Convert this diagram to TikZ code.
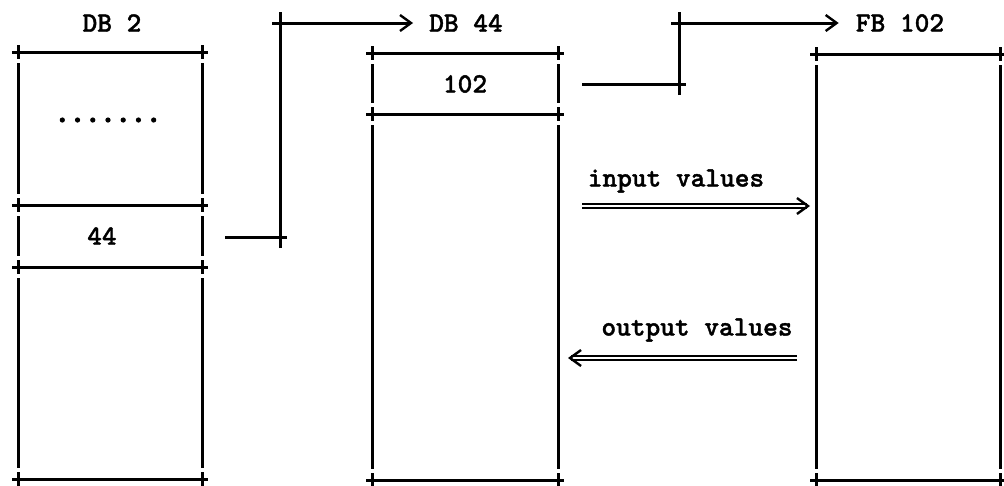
\documentclass[tikz,border=0pt]{standalone}
\usepackage{fontspec}
\newfontfamily\twfont{lmmonolt10-bold.otf}[BoldFont=lmmonolt10-bold.otf, BoldFeatures={FakeBold=1.3}]
\newfontfamily\dotfont{lmmonolt10-bold.otf}[FakeBold=4]
\usetikzlibrary{arrows.meta}
\newcommand\plusline[3]{%
  \draw[ln] (#1-6,#3) -- (#2+6,#3);
  \draw[ln] (#1,#3-7) -- (#1,#3+7);
  \draw[ln] (#2,#3-7) -- (#2,#3+7);}
\newcommand\vseg[3]{\draw[ln] (#1,#2+11) -- (#1,#3-11);}
\newcommand\plustick[1]{\draw[ln] ([yshift=-7pt]#1) -- ([yshift=7pt]#1);}
\begin{document}
\begin{tikzpicture}[x=1pt,y=-1pt,
  ln/.style={line width=3pt},
  lbl/.style={font=\twfont\bfseries\fontsize{28}{28}\selectfont, inner sep=0pt},
  tip/.style={-{Straight Barb[length=11pt,width=16pt,line width=2.4pt]}},
  dbl/.style={double, double distance=2.4pt, line width=1.6pt}]
\useasboundingbox (0,0) rectangle (1004,485);

% column DB 2
\plusline{18}{202}{52}
\plusline{18}{202}{205}
\plusline{18}{202}{267}
\plusline{18}{202}{479}
\foreach \x in {18,202}{
  \vseg{\x}{52}{205}
  \vseg{\x}{205}{267}
  \vseg{\x}{267}{479}
}
% column DB 44
\plusline{372}{558}{53}
\plusline{372}{558}{114}
\plusline{372}{558}{480}
\foreach \x in {372,558}{
  \vseg{\x}{53}{114}
  \vseg{\x}{114}{480}
}
% column FB 102
\plusline{816}{1000}{54}
\plusline{816}{1000}{480}
\foreach \x in {816,1000}{
  \vseg{\x}{54}{480}
}

% labels
\node[lbl] (db2) at (112,23) {DB 2};
\node[lbl] (db44) at (466,23) {DB 44};
\node[lbl] (fb102) at (900,23) {FB 102};
\node[lbl] (n102) at (465,84) {102};
\node[lbl] (n44) at (102,236) {44};
\node[inner sep=0pt, font=\dotfont\fontsize{29}{29}\selectfont, anchor=base] (dots) at (108,122) {.......};
\node[lbl] (inv) at (676,181) {input values};
\node[lbl] (outv) at (697,330) {output values};

% connector 44 -> DB 44
\coordinate (a1) at (225,237);
\coordinate (a2) at (280,237);
\coordinate (a3) at (280,23);
\draw[ln] (a1) -- ([xshift=7pt]a2);
\plustick{a2}
\draw[ln] ([yshift=-11pt]a2) -- ([yshift=11pt]a3);
\plustick{a3}
\draw[ln,tip] ([xshift=-8pt]a3) -- ([xshift=-16pt]db44.west);

% connector 102 -> FB 102
\coordinate (b1) at (582,84);
\coordinate (b2) at (679,84);
\coordinate (b3) at (679,23);
\draw[ln] (b1) -- ([xshift=7pt]b2);
\plustick{b2}
\draw[ln] ([yshift=-11pt]b2) -- ([yshift=11pt]b3);
\plustick{b3}
\draw[ln,tip] ([xshift=-8pt]b3) -- ([xshift=-17pt]fb102.west);

% value arrows
\coordinate (i1) at (582,206);
\coordinate (i2) at (810,206);
\coordinate (o1) at (797,358);
\coordinate (o2) at (568,358);
\draw[dbl,tip] (i1) -- (i2);
\draw[dbl,tip] (o1) -- (o2);
\end{tikzpicture}
\end{document}
